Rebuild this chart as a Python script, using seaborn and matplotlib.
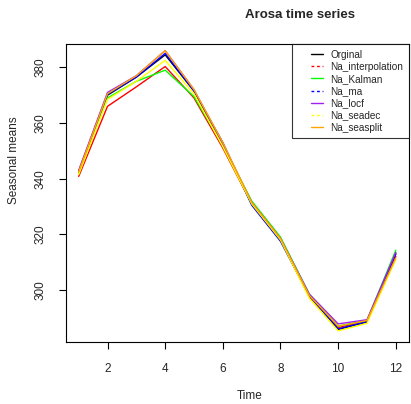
import matplotlib
matplotlib.use("Agg")
import matplotlib.pyplot as plt
import seaborn as sns
import pandas as pd

time = list(range(1, 13))
orginal = [342.5, 370, 376.5, 384.5, 371.5, 352, 331, 318, 298, 285.8, 288.5, 313]
na_interpolation = [340.8, 366, 373, 380.3, 369, 351, 331, 318, 297.5, 286.5, 288.8, 312]
na_kalman = [342, 369, 375, 379, 369.5, 352, 332, 319, 298.5, 287, 289, 314.3]
na_ma = [342.5, 370.3, 376.5, 385, 371.5, 353, 330.5, 317.5, 297.8, 286, 288.6, 313]
na_locf = [343, 371, 377, 386, 372, 352.5, 331.5, 318.5, 298.5, 287.8, 289.3, 313.5]
na_seadec = [341.5, 368.5, 375, 382.5, 370.5, 351.5, 331, 318, 297, 285.3, 288, 311]
na_seasplit = [342.5, 370.5, 377, 386, 372, 353, 331.5, 318.5, 298, 287, 289, 311.5]

series_names = ["Orginal", "Na_interpolation", "Na_Kalman", "Na_ma", "Na_locf", "Na_seadec", "Na_seasplit"]
series_vals = [orginal, na_interpolation, na_kalman, na_ma, na_locf, na_seadec, na_seasplit]
colors = ["#000000", "#FF0000", "#00FF00", "#0000FF", "#A020F0", "#FFFF00", "#FFA500"]
dashed = [False, True, False, True, False, True, False]
x_ticks = [2, 4, 6, 8, 10, 12]
y_ticks = [300, 320, 340, 360, 380]

sns.set_style("white")
plt.rcParams["font.family"] = ["Liberation Sans", "DejaVu Sans"]

fig = plt.figure(figsize=(4.11, 4.04), dpi=100)
ax = fig.add_axes([66 / 411, (404 - 341.7) / 404, (408.5 - 66) / 411, (341.7 - 44) / 404])

for name, vals, c in zip(series_names, series_vals, colors):
    df = pd.DataFrame({"Time": time, "val": vals})
    sns.lineplot(data=df, x="Time", y="val", ax=ax, color=c, linewidth=1.0,
                 label=name, dashes=False)

ax.set_xlim(0.56, 12.44)
ax.set_ylim(281.4, 388.4)
ax.set_xticks(x_ticks)
ax.set_yticks(y_ticks)
ax.set_xticklabels([str(t) for t in x_ticks], fontsize=8.5)
ax.set_yticklabels([str(t) for t in y_ticks], fontsize=8.5, rotation=90, va="center")
ax.tick_params(axis="both", direction="out", length=5, width=0.8, color="#000000",
               bottom=True, left=True, pad=9)
ax.tick_params(axis="x", pad=10)
for s in ax.spines.values():
    s.set_color("#000000")
    s.set_linewidth(0.8)
ax.set_xlabel("")
ax.set_ylabel("")

leg = ax.legend(loc="upper right", borderaxespad=0, fontsize=7.2, frameon=True,
                fancybox=False, handlelength=2.6, handletextpad=0.7,
                labelspacing=0.22, borderpad=0.55)
leg.get_frame().set_edgecolor("#000000")
leg.get_frame().set_linewidth(0.8)
for h, d in zip(leg.get_lines(), dashed):
    xd = list(h.get_xdata())
    yd = list(h.get_ydata())
    x0, x1 = float(xd[0]), float(xd[-1])
    h.set_data([x0 + (x1 - x0) * 0.55, x1], [float(yd[0]), float(yd[0])])
    if d:
        h.set_dashes((2, 2))

fig.text(300 / 411, 1 - 15 / 404, "Arosa time series", ha="center", va="center",
         fontsize=9.5, fontweight="bold")
fig.text(250 / 411, 1 - 396 / 404, "Time", ha="center", va="center", fontsize=8.5)
fig.text(14 / 411, 1 - 160 / 404, "Seasonal means", ha="center", va="center",
         fontsize=8.5, rotation=90)

fig.savefig("out.png", dpi=100)
